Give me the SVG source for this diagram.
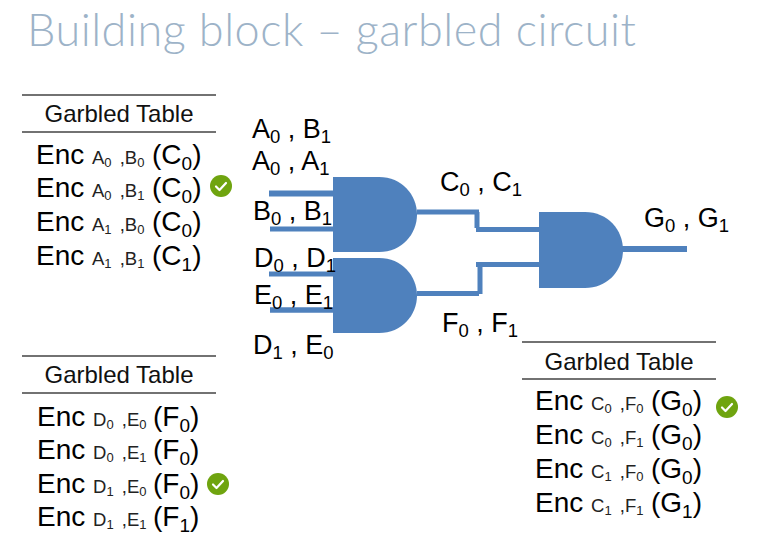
<svg xmlns="http://www.w3.org/2000/svg" width="770" height="544" viewBox="0 0 770 544">
<style>
text{font-family:"Liberation Sans",Arial,sans-serif;fill:#000}
.t{font-family:"Lato","Open Sans",sans-serif;font-weight:300;font-size:45px;fill:#9db3c8}
.h{font-size:24px;fill:#111}
.e{font-size:28px}
.k{font-size:18.500px;fill:#222}
.s{font-size:13px;fill:#222}
.b{font-size:19px}
.l{font-size:27px}
.ls{font-size:18.500px}
.r{stroke:#444;stroke-width:1.3;fill:none}
.w{stroke:#4f81bd;fill:none}
.g{fill:#4f81bd}
.c{fill:#6fa40f}
.m{fill:none;stroke:#fff;stroke-width:2.2;stroke-linecap:round;stroke-linejoin:round}
</style>
<rect width="770" height="544" fill="#fff"/>
<text class="t" x="27" y="46" textLength="609" lengthAdjust="spacing">Building block – garbled circuit</text>
<g id="connectors">
<path class="w" stroke-width="6" d="M269 193.500H333"/>
<path class="w" stroke-width="5" d="M270 229H333"/>
<path class="w" stroke-width="5" d="M269 274H333"/>
<path class="w" stroke-width="5.500" d="M270 310H333"/>
<path class="w" stroke-width="5" d="M417 212H479M477 212V228M476 229.500H540"/>
<path class="w" stroke-width="5" d="M417 293.500H479M480 294V264.500M476 264.500H540"/>
<path class="w" stroke-width="6" d="M622 249H687"/>
</g>
<g id="gate-ab"><path class="g" d="M333 177H379C402 177 417 195 417 214.500C417 234 402 252 379 252H333Z"/></g>
<g id="gate-de"><path class="g" d="M333 258H379C402 258 417 276 417 295.500C417 315 402 333 379 333H333Z"/></g>
<g id="gate-cf"><path class="g" d="M539 212H585C608 212 623 230 623 250C623 270 608 288 585 288H539Z"/></g>
<g id="labels">
<text class="l" x="252" y="138">A<tspan class="ls" dy="5">0</tspan><tspan dy="-5"> , B</tspan><tspan class="ls" dy="5">1</tspan></text>
<text class="l" x="252" y="170">A<tspan class="ls" dy="5">0</tspan><tspan dy="-5"> , A</tspan><tspan class="ls" dy="5">1</tspan></text>
<text class="l" x="253" y="220">B<tspan class="ls" dy="5">0</tspan><tspan dy="-5"> , B</tspan><tspan class="ls" dy="5">1</tspan></text>
<text class="l" x="254" y="267">D<tspan class="ls" dy="5">0</tspan><tspan dy="-5"> , D</tspan><tspan class="ls" dy="5">1</tspan></text>
<text class="l" x="254" y="304">E<tspan class="ls" dy="5">0</tspan><tspan dy="-5"> , E</tspan><tspan class="ls" dy="5">1</tspan></text>
<text class="l" x="253" y="354">D<tspan class="ls" dy="5">1</tspan><tspan dy="-5"> , E</tspan><tspan class="ls" dy="5">0</tspan></text>
<text class="l" x="440" y="191">C<tspan class="ls" dy="5">0</tspan><tspan dy="-5"> , C</tspan><tspan class="ls" dy="5">1</tspan></text>
<text class="l" x="442" y="332">F<tspan class="ls" dy="5">0</tspan><tspan dy="-5"> , F</tspan><tspan class="ls" dy="5">1</tspan></text>
<text class="l" x="644" y="227">G<tspan class="ls" dy="5">0</tspan><tspan dy="-5"> , G</tspan><tspan class="ls" dy="5">1</tspan></text>
</g>
<g id="table-c">
<path class="r" d="M22 95H216M22 132H216"/>
<text class="h" x="119" y="122" text-anchor="middle">Garbled Table</text>
<text class="e" x="36" y="163.500">Enc <tspan class="k" x="92">A</tspan><tspan class="s" dy="3">0</tspan><tspan class="k" dy="-3" dx="3"> ,B</tspan><tspan class="s" dy="3">0</tspan><tspan x="152" dy="-3">(C</tspan><tspan class="b" dy="6">0</tspan><tspan dy="-6">)</tspan></text>
<text class="e" x="36" y="197">Enc <tspan class="k" x="92">A</tspan><tspan class="s" dy="3">0</tspan><tspan class="k" dy="-3" dx="3"> ,B</tspan><tspan class="s" dy="3">1</tspan><tspan x="152" dy="-3">(C</tspan><tspan class="b" dy="6">0</tspan><tspan dy="-6">)</tspan></text>
<text class="e" x="36" y="230.500">Enc <tspan class="k" x="92">A</tspan><tspan class="s" dy="3">1</tspan><tspan class="k" dy="-3" dx="3"> ,B</tspan><tspan class="s" dy="3">0</tspan><tspan x="152" dy="-3">(C</tspan><tspan class="b" dy="6">0</tspan><tspan dy="-6">)</tspan></text>
<text class="e" x="36" y="265">Enc <tspan class="k" x="92">A</tspan><tspan class="s" dy="3">1</tspan><tspan class="k" dy="-3" dx="3"> ,B</tspan><tspan class="s" dy="3">1</tspan><tspan x="152" dy="-3">(C</tspan><tspan class="b" dy="6">1</tspan><tspan dy="-6">)</tspan></text>
<circle class="c" cx="221" cy="186" r="11"/><path class="m" d="M216 186.500L219.500 190L226 183"/>
</g>
<g id="table-f">
<path class="r" d="M22 356H216M22 393H216"/>
<text class="h" x="119" y="383" text-anchor="middle">Garbled Table</text>
<text class="e" x="37" y="425.500">Enc <tspan class="k" x="93">D</tspan><tspan class="s" dy="3">0</tspan><tspan class="k" dy="-3" dx="3"> ,E</tspan><tspan class="s" dy="3">0</tspan><tspan x="153" dy="-3">(F</tspan><tspan class="b" dy="6">0</tspan><tspan dy="-6">)</tspan></text>
<text class="e" x="37" y="458.500">Enc <tspan class="k" x="93">D</tspan><tspan class="s" dy="3">0</tspan><tspan class="k" dy="-3" dx="3"> ,E</tspan><tspan class="s" dy="3">1</tspan><tspan x="153" dy="-3">(F</tspan><tspan class="b" dy="6">0</tspan><tspan dy="-6">)</tspan></text>
<text class="e" x="37" y="492.500">Enc <tspan class="k" x="93">D</tspan><tspan class="s" dy="3">1</tspan><tspan class="k" dy="-3" dx="3"> ,E</tspan><tspan class="s" dy="3">0</tspan><tspan x="153" dy="-3">(F</tspan><tspan class="b" dy="6">0</tspan><tspan dy="-6">)</tspan></text>
<text class="e" x="37" y="526">Enc <tspan class="k" x="93">D</tspan><tspan class="s" dy="3">1</tspan><tspan class="k" dy="-3" dx="3"> ,E</tspan><tspan class="s" dy="3">1</tspan><tspan x="153" dy="-3">(F</tspan><tspan class="b" dy="6">1</tspan><tspan dy="-6">)</tspan></text>
<circle class="c" cx="218" cy="484" r="11"/><path class="m" d="M213 484.500L216.500 488L223 481"/>
</g>
<g id="table-g">
<path class="r" d="M522 342H716M522 379H716"/>
<text class="h" x="619" y="370" text-anchor="middle">Garbled Table</text>
<text class="e" x="535" y="410">Enc <tspan class="k" x="591">C</tspan><tspan class="s" dy="3">0</tspan><tspan class="k" dy="-3" dx="3"> ,F</tspan><tspan class="s" dy="3">0</tspan><tspan x="651" dy="-3">(G</tspan><tspan class="b" dy="6">0</tspan><tspan dy="-6">)</tspan></text>
<text class="e" x="535" y="444">Enc <tspan class="k" x="591">C</tspan><tspan class="s" dy="3">0</tspan><tspan class="k" dy="-3" dx="3"> ,F</tspan><tspan class="s" dy="3">1</tspan><tspan x="651" dy="-3">(G</tspan><tspan class="b" dy="6">0</tspan><tspan dy="-6">)</tspan></text>
<text class="e" x="535" y="478">Enc <tspan class="k" x="591">C</tspan><tspan class="s" dy="3">1</tspan><tspan class="k" dy="-3" dx="3"> ,F</tspan><tspan class="s" dy="3">0</tspan><tspan x="651" dy="-3">(G</tspan><tspan class="b" dy="6">0</tspan><tspan dy="-6">)</tspan></text>
<text class="e" x="535" y="512">Enc <tspan class="k" x="591">C</tspan><tspan class="s" dy="3">1</tspan><tspan class="k" dy="-3" dx="3"> ,F</tspan><tspan class="s" dy="3">1</tspan><tspan x="651" dy="-3">(G</tspan><tspan class="b" dy="6">1</tspan><tspan dy="-6">)</tspan></text>
<circle class="c" cx="727" cy="407" r="11"/><path class="m" d="M722 407.500L725.500 411L732 404"/>
</g>
</svg>
